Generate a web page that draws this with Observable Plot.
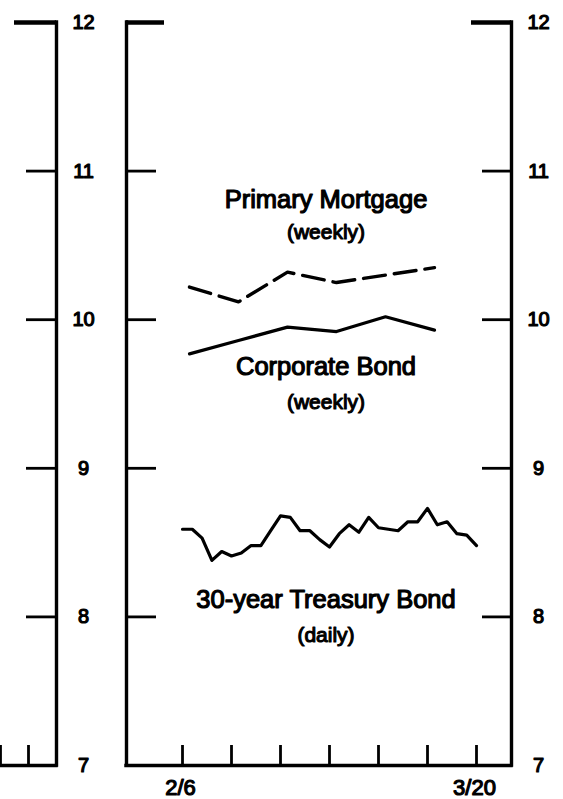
<!DOCTYPE html>
<html>
<head>
<meta charset="utf-8">
<script src="https://cdn.jsdelivr.net/npm/d3@7"></script>
<script src="https://cdn.jsdelivr.net/npm/@observablehq/plot@0.6"></script>
<style>
  html, body { margin: 0; padding: 0; background: #fff; }
  #chart { width: 563px; height: 799px; overflow: hidden; }
</style>
</head>
<body>
<div id="chart"></div>
<script>
// ---------- data ----------
const weeklyDates = ["1990-02-07", "1990-02-14", "1990-02-21", "1990-02-28", "1990-03-07", "1990-03-14"];
const mortgageRates = [10.22, 10.12, 10.32, 10.25, 10.30, 10.35];
const corporateRates = [9.77, 9.86, 9.95, 9.92, 10.02, 9.93];

const treasuryStart = "1990-02-06";
const treasuryEnd = "1990-03-20";
const treasuryRates = [
  8.59, 8.59, 8.53, 8.38, 8.44, 8.41, 8.43, 8.48, 8.48, 8.58,
  8.68, 8.67, 8.58, 8.58, 8.52, 8.47, 8.56, 8.62, 8.57, 8.67,
  8.60, 8.59, 8.58, 8.64, 8.64, 8.73, 8.62, 8.64, 8.56, 8.55,
  8.48
];

const yTickValues = [12, 11, 10, 9, 8, 7];
const xTickDates = ["1990-02-06", "1990-02-13", "1990-02-20", "1990-02-27", "1990-03-06", "1990-03-13", "1990-03-20"];
const xTickLabels = ["2/6", "", "", "", "", "", "3/20"];

const seriesNames = ["Primary Mortgage", "Corporate Bond", "30-year Treasury Bond"];
const seriesFrequency = ["(weekly)", "(weekly)", "(daily)"];

// previous (cut-off) panel on the left
const prevPanelTickDates = ["1990-01-11", "1990-01-15"];

// ---------- tables ----------
const mortgage = weeklyDates.map((d, i) => ({date: new Date(d), rate: mortgageRates[i]}));
const corporate = weeklyDates.map((d, i) => ({date: new Date(d), rate: corporateRates[i]}));
const t0 = new Date(treasuryStart), t1 = new Date(treasuryEnd);
const treasury = treasuryRates.map((r, i) => ({
  date: new Date(+t0 + (t1 - t0) * i / (treasuryRates.length - 1)),
  rate: r
}));
const xTicks = xTickDates.map((d, i) => ({date: new Date(d), label: xTickLabels[i]}));
const innerTicks = yTickValues.filter(v => v !== 12 && v !== 7);

// ---------- layout ----------
const frameLeft = new Date("1990-01-29");
const frameRight = new Date("1990-03-25");
const prevRight = new Date("1990-01-19");
const prevLeft = new Date("1990-01-09");
const labelX = new Date("1990-02-26T12:00:00Z");
const nameY = [10.755, 9.631, 8.057];
const freqY = [10.540, 9.402, 7.828];
const names = seriesNames.map((t, i) => ({t, y: nameY[i]}));
const freqs = seriesFrequency.map((t, i) => ({t, y: freqY[i]}));

const ink = "#000";
const font = "'Liberation Sans', Arial, Helvetica, sans-serif";

const chart = Plot.plot({
  width: 563,
  height: 799,
  marginTop: 22,
  marginBottom: 34,
  marginLeft: 126,
  marginRight: 52,
  x: {type: "utc", domain: [frameLeft, frameRight], axis: null},
  y: {domain: [7, 12], axis: null},
  style: {background: "#fff", fontFamily: font, color: ink},
  marks: [
    // vertical axis lines
    Plot.ruleX([prevRight, frameLeft, frameRight], {x: d => d, y1: 7, y2: 12, stroke: ink, strokeWidth: 3.4, strokeLinecap: "square"}),
    // bottom lines
    Plot.ruleY([7], {x1: prevLeft, x2: prevRight, stroke: ink, strokeWidth: 3.4, strokeLinecap: "square"}),
    Plot.ruleY([7], {x1: frameLeft, x2: frameRight, stroke: ink, strokeWidth: 3.4, strokeLinecap: "square"}),
    // top stubs at 12
    Plot.ruleY([12], {x1: prevRight, x2: prevRight, insetLeft: -42, stroke: ink, strokeWidth: 4.4}),
    Plot.ruleY([12], {x1: frameLeft, x2: frameLeft, insetRight: -38, stroke: ink, strokeWidth: 4.4}),
    Plot.ruleY([12], {x1: frameRight, x2: frameRight, insetLeft: -40, stroke: ink, strokeWidth: 4.4}),
    // inner y ticks
    Plot.ruleY(innerTicks, {x1: prevRight, x2: prevRight, insetLeft: -30, stroke: ink, strokeWidth: 2.8}),
    Plot.ruleY(innerTicks, {x1: frameLeft, x2: frameLeft, insetRight: -30, stroke: ink, strokeWidth: 2.8}),
    Plot.ruleY(innerTicks, {x1: frameRight, x2: frameRight, insetLeft: -29, stroke: ink, strokeWidth: 2.8}),
    // x ticks
    Plot.ruleX(xTicks, {x: "date", y1: 7, y2: 7, insetTop: -20, stroke: ink, strokeWidth: 2.8}),
    Plot.ruleX(prevPanelTickDates.map(d => new Date(d)), {x: d => d, y1: 7, y2: 7, insetTop: -20, stroke: ink, strokeWidth: 2.8}),
    // y tick labels
    Plot.text(yTickValues, {x: prevRight, y: d => d, text: d => String(d), dx: 27, fontSize: 20, fill: ink, stroke: ink, strokeWidth: 1.2, textAnchor: "middle"}),
    Plot.text(yTickValues, {x: frameRight, y: d => d, text: d => String(d), dx: 27, fontSize: 20, fill: ink, stroke: ink, strokeWidth: 1.2, textAnchor: "middle"}),
    // x tick labels
    Plot.text(xTicks.filter(d => d.label), {x: "date", y: 7, text: "label", dy: 22, dx: -2, fontSize: 22, fill: ink, stroke: ink, strokeWidth: 1.2, textAnchor: "middle"}),
    // series
    Plot.line(mortgage, {x: "date", y: "rate", stroke: ink, strokeWidth: 3.4, strokeDasharray: "22,9"}),
    Plot.line(corporate, {x: "date", y: "rate", stroke: ink, strokeWidth: 3.2}),
    Plot.line(treasury, {x: "date", y: "rate", stroke: ink, strokeWidth: 3.2, strokeLinejoin: "round"}),
    // series labels
    Plot.text(names, {x: labelX, y: "y", text: "t", lineAnchor: "bottom", fontSize: 25.5, fill: ink, stroke: ink, strokeWidth: 1.2, textAnchor: "middle"}),
    Plot.text(freqs, {x: labelX, y: "y", text: "t", lineAnchor: "bottom", fontSize: 21, fill: ink, stroke: ink, strokeWidth: 1.1, textAnchor: "middle"})
  ]
});

document.getElementById("chart").appendChild(chart);
</script>
</body>
</html>
